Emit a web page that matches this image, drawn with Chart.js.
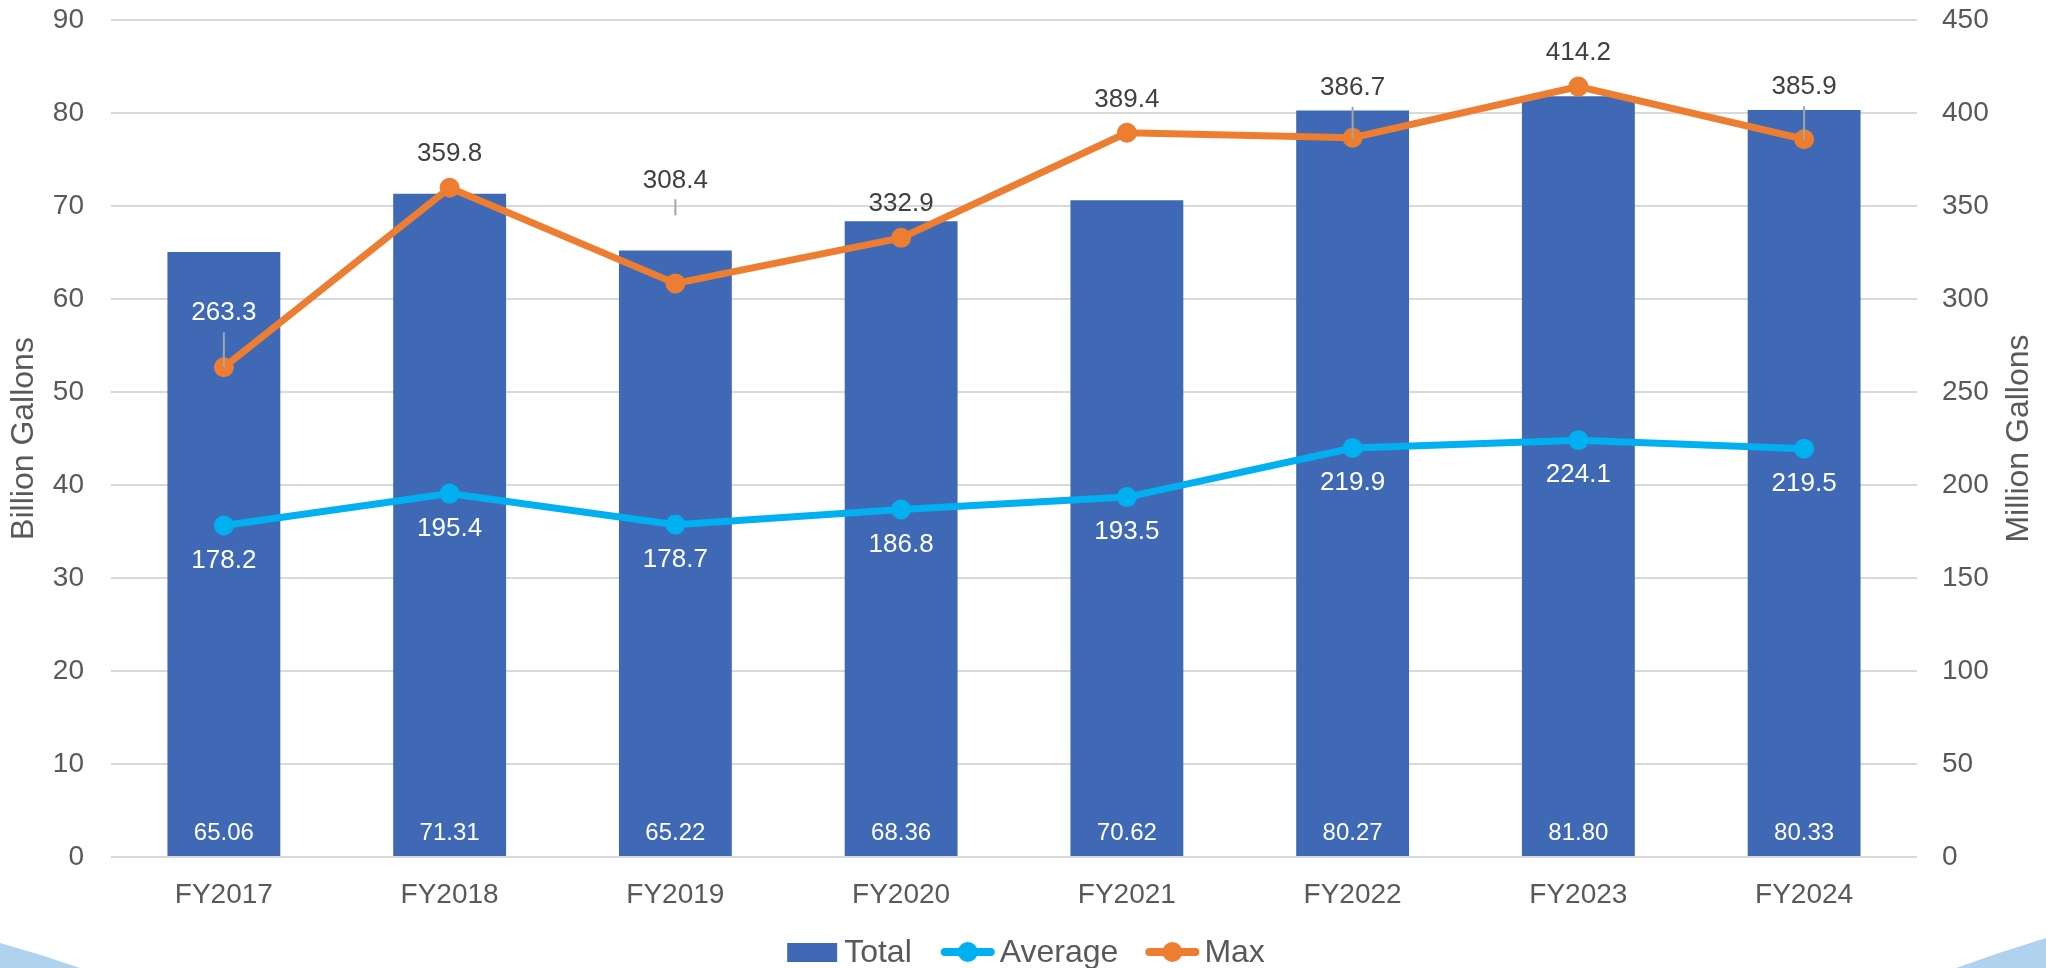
<!DOCTYPE html>
<html>
<head>
<meta charset="utf-8">
<script src="https://cdn.jsdelivr.net/npm/chart.js@4.4.1/dist/chart.umd.min.js"></script>
<style>
  html, body { margin: 0; padding: 0; background: #fff; }
  canvas { display: block; }
</style>
</head>
<body>
<canvas id="chart" width="2046" height="968"></canvas>
<script>
// --- Data ---
const years = ['FY2017', 'FY2018', 'FY2019', 'FY2020', 'FY2021', 'FY2022', 'FY2023', 'FY2024'];
const totalBillion = [65.06, 71.31, 65.22, 68.36, 70.62, 80.27, 81.80, 80.33];
const avgMillion = [178.2, 195.4, 178.7, 186.8, 193.5, 219.9, 224.1, 219.5];
const maxMillion = [263.3, 359.8, 308.4, 332.9, 389.4, 386.7, 414.2, 385.9];
const leftAxis = { max: 90, step: 10, title: 'Billion Gallons' };
const rightAxis = { max: 450, step: 50, title: 'Million Gallons' };

// Max labels: how far each sits above its point, and its leader line (0 = none)
const maxLabelLift = [54, 34, 103, 34, 33, 50, 34, 52];
const maxLeaderLen = [35, 0, 16, 0, 0, 31, 0, 33];

const FONT = '"Liberation Sans", Arial, sans-serif';
const GREY = '#595959';
const COLORS = { total: '#3F69B5', avg: '#00B0F0', max: '#ED7D31' };

// --- Plugins ---
const backdrop = {
    id: 'backdrop',
    beforeDraw(chart) {
        const { ctx, width, height } = chart;
        ctx.save();
        ctx.fillStyle = '#fff';
        ctx.fillRect(0, 0, width, height);
        ctx.fillStyle = '#AFD3EE';
        ctx.beginPath();
        ctx.moveTo(0, height - 25);
        ctx.quadraticCurveTo(40, height - 14, 80, height);
        ctx.lineTo(0, height);
        ctx.fill();
        ctx.beginPath();
        ctx.moveTo(width - 90, height);
        ctx.quadraticCurveTo(width - 46, height - 16, width, height - 30);
        ctx.lineTo(width, height);
        ctx.fill();
        ctx.restore();
    }
};

const valueLabels = {
    id: 'valueLabels',
    afterDatasetsDraw(chart) {
        const ctx = chart.ctx;
        ctx.save();
        ctx.textAlign = 'center';
        ctx.textBaseline = 'middle';

        const bars = chart.getDatasetMeta(0).data;
        ctx.font = `24px ${FONT}`;
        ctx.fillStyle = '#fff';
        bars.forEach((bar, i) => ctx.fillText(totalBillion[i].toFixed(2), bar.x, bar.base - 23));

        ctx.font = `26px ${FONT}`;
        chart.getDatasetMeta(1).data.forEach((pt, i) => {
            ctx.fillText(avgMillion[i].toFixed(1), pt.x, pt.y + 35);
        });

        chart.getDatasetMeta(2).data.forEach((pt, i) => {
            const ly = pt.y - maxLabelLift[i];
            if (maxLeaderLen[i]) {
                ctx.strokeStyle = '#A6A6A6';
                ctx.lineWidth = 2;
                ctx.beginPath();
                ctx.moveTo(pt.x, ly + 19);
                ctx.lineTo(pt.x, ly + 19 + maxLeaderLen[i]);
                ctx.stroke();
            }
            ctx.fillStyle = (ly - 13 > bars[i].y) ? '#fff' : '#404040';
            ctx.fillText(maxMillion[i].toFixed(1), pt.x, ly);
        });
        ctx.restore();
    }
};

const decorations = {
    id: 'decorations',
    afterDraw(chart) {
        const { ctx, width, chartArea } = chart;
        ctx.save();
        ctx.font = `32px ${FONT}`;
        ctx.fillStyle = GREY;
        ctx.textAlign = 'center';
        ctx.textBaseline = 'middle';

        // axis titles
        const midY = (chartArea.top + chartArea.bottom) / 2;
        [[24, leftAxis.title], [2019, rightAxis.title]].forEach(([x, t]) => {
            ctx.save();
            ctx.translate(x, midY);
            ctx.rotate(-Math.PI / 2);
            ctx.fillText(t, 0, 0);
            ctx.restore();
        });

        // legend
        const ds = chart.data.datasets;
        const swatchW = 54, gap = 5, itemGap = 27, y = 952;
        ctx.textAlign = 'left';
        const widths = ds.map(d => swatchW + gap + ctx.measureText(d.label).width);
        let x = width / 2 + 3 - (widths.reduce((a, b) => a + b, 0) + itemGap * (ds.length - 1)) / 2;
        ds.forEach((d, i) => {
            if (d.type === 'bar') {
                ctx.fillStyle = d.backgroundColor;
                ctx.fillRect(x, y - 9, swatchW - 4, 19);
            } else {
                ctx.strokeStyle = d.borderColor;
                ctx.lineWidth = 8;
                ctx.lineCap = 'round';
                ctx.beginPath();
                ctx.moveTo(x + 4, y);
                ctx.lineTo(x + swatchW - 4, y);
                ctx.stroke();
                ctx.fillStyle = d.borderColor;
                ctx.beginPath();
                ctx.arc(x + swatchW / 2, y, 10, 0, Math.PI * 2);
                ctx.fill();
            }
            ctx.fillStyle = GREY;
            ctx.fillText(d.label, x + swatchW + gap - (d.type === 'bar' ? 2 : 0), y + 1);
            x += widths[i] + itemGap;
        });
        ctx.restore();
    }
};

// --- Chart ---
const tickFont = { family: FONT, size: 28 };
const noPad = s => { s.paddingTop = 0; s.paddingBottom = 0; };

new Chart(document.getElementById('chart'), {
    data: {
        labels: years,
        datasets: [
            {
                type: 'bar', label: 'Total', data: totalBillion, yAxisID: 'y', order: 3,
                backgroundColor: COLORS.total, barPercentage: 0.5, categoryPercentage: 1
            },
            {
                type: 'line', label: 'Average', data: avgMillion, yAxisID: 'y1', order: 2,
                borderColor: COLORS.avg, backgroundColor: COLORS.avg, borderWidth: 7,
                pointRadius: 10, pointBorderWidth: 0, pointBackgroundColor: COLORS.avg, tension: 0
            },
            {
                type: 'line', label: 'Max', data: maxMillion, yAxisID: 'y1', order: 1,
                borderColor: COLORS.max, backgroundColor: COLORS.max, borderWidth: 7,
                pointRadius: 10, pointBorderWidth: 0, pointBackgroundColor: COLORS.max, tension: 0
            }
        ]
    },
    options: {
        responsive: false,
        animation: false,
        devicePixelRatio: 1,
        layout: { padding: { top: 20, left: 0, right: 0, bottom: 0 } },
        plugins: { legend: { display: false }, tooltip: { enabled: false } },
        scales: {
            x: {
                grid: { display: false },
                border: { display: false },
                ticks: { font: tickFont, color: GREY, padding: 13 },
                afterFit(s) { s.height = 111; }
            },
            y: {
                position: 'left', min: 0, max: leftAxis.max,
                ticks: { stepSize: leftAxis.step, font: tickFont, color: GREY, padding: 27 },
                grid: { color: '#D9D9D9', lineWidth: 2, drawTicks: false },
                border: { display: false },
                afterFit(s) { s.width = 111; noPad(s); }
            },
            y1: {
                position: 'right', min: 0, max: rightAxis.max,
                ticks: { stepSize: rightAxis.step, font: tickFont, color: GREY, padding: 25 },
                grid: { drawOnChartArea: false, drawTicks: false },
                border: { display: false },
                afterFit(s) { s.width = 129; noPad(s); }
            }
        }
    },
    plugins: [backdrop, valueLabels, decorations]
});
</script>
</body>
</html>
